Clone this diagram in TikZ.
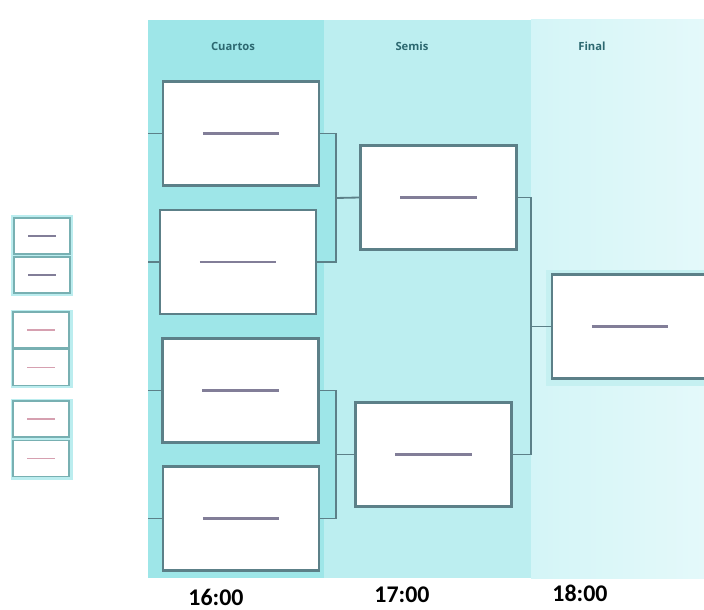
\documentclass[tikz,border=0pt]{standalone}
\usepackage{fontspec}
\setmainfont{Carlito}
\newfontfamily\headfont{Open Sans}
\usetikzlibrary{calc, positioning}
\definecolor{cuartosbg}{RGB}{158,230,232}
\definecolor{semisbg}{RGB}{188,238,240}
\definecolor{finalbg}{RGB}{212,245,247}
\definecolor{finalend}{RGB}{228,249,250}
\definecolor{boxc}{RGB}{92,128,136}
\definecolor{slotc}{RGB}{120,176,178}
\definecolor{namec}{RGB}{130,126,152}
\definecolor{namered}{RGB}{214,160,176}
\definecolor{headc}{RGB}{44,104,112}
\tikzset{
    link/.style = {draw=boxc, line width=1.3pt}, % bracket lines between rounds
    match/.style = {rectangle, draw=boxc, line width=1.5pt, fill=white,
                    minimum width=3.9cm, minimum height=2.6cm, inner sep=0pt,
                    path picture={\draw[namec, line width=1.6pt]
                      ([xshift=-0.95cm]path picture bounding box.center) --
                      ([xshift=0.95cm]path picture bounding box.center);}},
    slot/.style = {rectangle, draw=slotc, line width=1.1pt, fill=white,
                   minimum width=1.4cm, minimum height=0.9cm, inner sep=0pt,
                   path picture={\draw[#1, line width=0.9pt]
                     ([xshift=-0.34cm]path picture bounding box.center) --
                     ([xshift=0.34cm]path picture bounding box.center);}},
    pairbg/.style = {fill=cuartosbg!70},
    head/.style = {font=\headfont\bfseries\fontsize{8}{10}\selectfont, text=headc},
    hour/.style = {font=\bfseries\fontsize{17}{20}\selectfont, text=black}
}
\begin{document}
\begin{tikzpicture}[x=0.025cm, y=-0.025cm]
\useasboundingbox (0,0) rectangle (704,610);
% columns
\fill[cuartosbg] (148,20) rectangle (324,578);
\fill[semisbg] (324,20) rectangle (531,578);
\shade[left color=finalbg, right color=finalend] (531,20) rectangle (704,578);
\fill[cuartosbg] (324,133) rectangle (337,263);
\fill[cuartosbg] (324,390) rectangle (337,519);
\node[head] (hq) at (233,46) {Cuartos};
\node[head] (hs) at (412,46) {Semis};
\node[head] (hf) at (592,46) {Final};
\coordinate (edge) at (148,0);

% left slots
\fill[pairbg] (11,215) rectangle (73,296);
\fill[pairbg] (11,310) rectangle (73,388);
\fill[pairbg] (11,399) rectangle (73,480);
\node[slot=namec] (p1) at (42,236) {};
\node[slot=namec] (p2) at (42,275) {};
\node[slot=namered] (p3) at (41,330) {};
\node[slot=namered] (p4) at (41,367.5) {};
\node[slot=namered] (p5) at (41,419) {};
\node[slot=namered] (p6) at (41,458.5) {};

% cuartos
\node[match] (q1) at (241,133.5) {};
\node[match] (q2) at (238,262) {};
\node[match] (q3) at (240.5,390.5) {};
\node[match] (q4) at (241,518.5) {};
\foreach \q in {q1,q2,q3,q4}
  \draw[link] (\q.west) -- (\q.west -| edge);

% semis
\node[match] (s1) at (438.5,197.5) {};
\node[match] (s2) at (433.5,454.5) {};

% final
\fill[cuartosbg!60] (546,270) rectangle (704,386);
\node[match] (f) at (630,326.5) {};

% brackets
\coordinate (j1) at (336,198);
\coordinate (j2) at (336,454.5);
\coordinate (j3) at (531,326.5);
\draw[link] (q1.east) -| (j1) |- (q2.east);
\draw[link] (j1) -- (s1.west);
\draw[link] (q3.east) -| (j2) |- (q4.east);
\draw[link] (j2) -- (s2.west);
\draw[link] (s1.east) -| (j3) |- (s2.east);
\draw[link] (j3) -- (f.west);

% hours
\node[hour] (t1) at (216,597) {16:00};
\node[hour] (t2) at (402,595) {17:00};
\node[hour] (t3) at (580,593) {18:00};
\end{tikzpicture}
\end{document}
